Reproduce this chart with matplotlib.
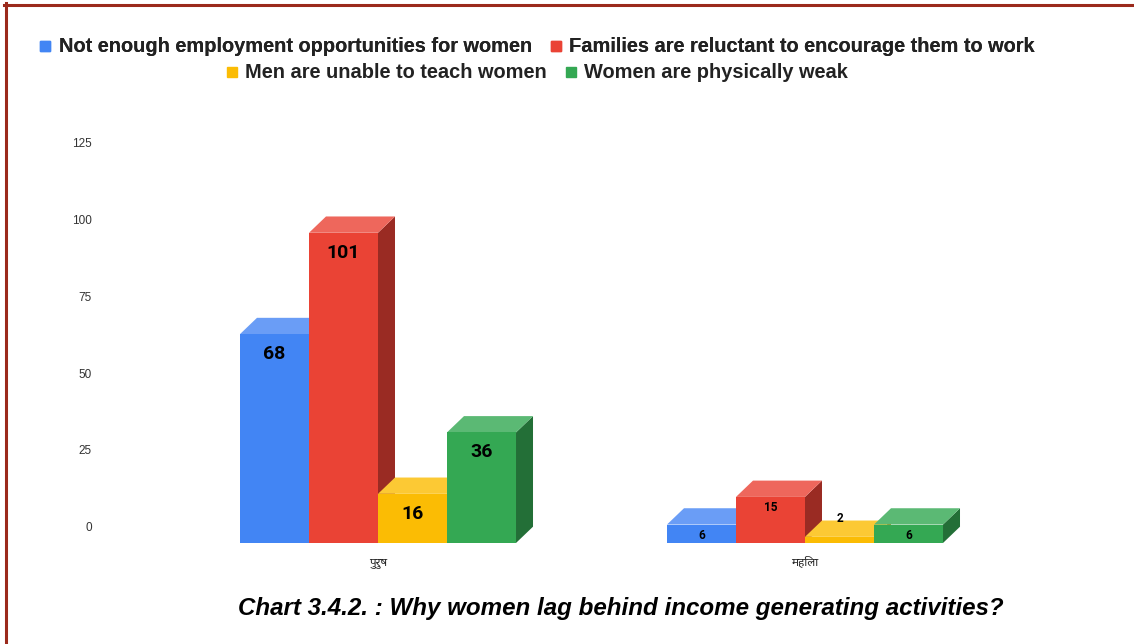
"""
3-D style grouped bar chart: reasons why women lag behind income generating
activities, split by respondent group (male / female).
"""

import matplotlib
matplotlib.use("Agg")
import matplotlib.pyplot as plt
from matplotlib.patches import Polygon
from matplotlib.lines import Line2D

GROUPS = ["पुरुष", "महिला"]
SERIES = [
    "Not enough employment opportunities for women",
    "Families are reluctant to encourage them to work",
    "Men are unable to teach women",
    "Women are physically weak",
]
VALUES = [
    [68, 6],    # not enough employment opportunities
    [101, 15],  # families reluctant
    [16, 2],    # men unable to teach
    [36, 6],    # physically weak
]
Y_TICKS = [0, 25, 50, 75, 100, 125]

FRONT = ["#4285F4", "#EA4335", "#FBBC04", "#34A853"]
TOP = ["#6A9DF6", "#EE675C", "#FCC934", "#5BB974"]
SIDE = ["#2D5DAE", "#9A2B23", "#B08503", "#236F37"]

DEVA = ["Noto Sans Devanagari", "Hind", "Mukta", "DejaVu Sans"]

W, H = 1134, 644
BAR_W = 0.1616          # bar width in category units
DEPTH_PX = (17, 16.3)   # 3-D offset of the back face, pixels


def main():
    fig = plt.figure(figsize=(W / 100, H / 100), dpi=100)
    ax = fig.add_axes([100 / W, (H - 545.1) / H, 983 / W, 417.7 / H])
    xlim = (-278 / 427, 1 + 278 / 427)
    ylim = (-6, 130)
    ax.set_xlim(xlim)
    ax.set_ylim(ylim)

    # depth offsets in data units
    px_x = 983 / (xlim[1] - xlim[0])
    px_y = 417.7 / (ylim[1] - ylim[0])
    dx = DEPTH_PX[0] / px_x
    dy = DEPTH_PX[1] / px_y

    n = len(SERIES)
    for g in range(len(GROUPS)):
        for s in range(n):
            v = VALUES[s][g]
            x0 = g + (s - n / 2) * BAR_W
            x1 = x0 + BAR_W
            side = [(x1, -dy), (x1, v - dy), (x1 + dx, v), (x1 + dx, 0)]
            top = [(x0, v - dy), (x1, v - dy), (x1 + dx, v), (x0 + dx, v)]
            front = [(x0, -dy), (x1, -dy), (x1, v - dy), (x0, v - dy)]
            ax.add_patch(Polygon(side, closed=True, fc=SIDE[s], ec="none"))
            ax.add_patch(Polygon(top, closed=True, fc=TOP[s], ec="none"))
            ax.add_patch(Polygon(front, closed=True, fc=FRONT[s], ec="none"))

            # value labels: big inside the bar for the first group, small for the second
            xc = (x0 + x1) / 2
            if g == 0:
                ax.text(xc, v - dy - 20 / px_y, str(v), ha="center", va="center",
                        fontsize=14, fontweight="bold", family="Roboto", color="black")
            elif v * px_y > 16:
                ax.text(xc, v - dy - 11 / px_y, str(v), ha="center", va="center",
                        fontsize=8.5, fontweight="bold", family="Roboto", color="black")
            else:
                ax.text(xc, v + 0.6, str(v), ha="center", va="center",
                        fontsize=8.5, fontweight="bold", family="Roboto", color="black")

    ax.set_yticks(Y_TICKS)
    ax.set_yticklabels([str(t) for t in Y_TICKS], family="Liberation Sans",
                       fontsize=8.5, color="#333333")
    ax.set_xticks(range(len(GROUPS)))
    ax.set_xticklabels(GROUPS, family=DEVA, fontsize=8.5, color="#222222")
    ax.tick_params(axis="y", length=0, pad=6)
    ax.tick_params(axis="x", length=0, pad=7)
    for sp in ax.spines.values():
        sp.set_visible(False)

    # legend in two centred rows
    handles = [Line2D([], [], marker="s", ls="none", ms=7.5, mfc=c, mec=c) for c in FRONT]
    leg_kw = dict(loc="center", ncol=2, frameon=False, handletextpad=0.27,
                  columnspacing=0.8, handlelength=0.8,
                  prop=dict(family="Liberation Sans", weight="bold", size=14.4))
    leg1 = fig.legend(handles[:2], SERIES[:2], bbox_to_anchor=(536 / W, 1 - 47 / H), **leg_kw)
    fig.legend(handles[2:], SERIES[2:], bbox_to_anchor=(536 / W, 1 - 73 / H), **leg_kw)
    fig.add_artist(leg1)
    for leg in fig.legends:
        for t in leg.get_texts():
            t.set_color("#222222")

    fig.text(621 / W, 1 - 608 / H,
             "Chart 3.4.2. : Why women lag behind income generating activities?",
             ha="center", va="center", family="Liberation Sans", fontsize=17.4,
             fontweight="bold", style="italic", color="black")

    # dark red frame on the left and top edges
    fig.add_artist(Line2D([5.5 / W, 5.5 / W], [0, 1 - 3 / H], color="#9B2A1C", lw=2.2))
    fig.add_artist(Line2D([4 / W, 1], [1 - 4.5 / H, 1 - 4.5 / H], color="#9B2A1C", lw=2.2))

    fig.savefig("out.png", dpi=100)


if __name__ == "__main__":
    main()
